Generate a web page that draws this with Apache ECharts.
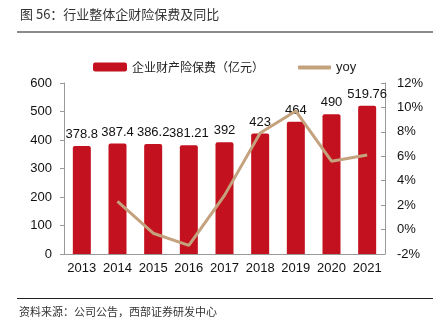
<!DOCTYPE html>
<html>
<head>
<meta charset="utf-8">
<script src="https://cdn.jsdelivr.net/npm/echarts@6/dist/echarts.min.js"></script>
<style>
  html, body { margin: 0; padding: 0; background: #fff; }
  #chart { width: 442px; height: 330px; }
</style>
</head>
<body>
<div id="chart"></div>
<script>
// Years on the category axis
const years = ['2013', '2014', '2015', '2016', '2017', '2018', '2019', '2020', '2021'];
// Enterprise property insurance premiums (100 million yuan)
const premiums = [378.8, 387.4, 386.2, 381.21, 392, 423, 464, 490, 519.76];
// Year-on-year growth (%), no value for the first year
const yoy = ['-', 2.3, -0.3, -1.3, 2.8, 7.9, 9.7, 5.6, 6.1];
// Right axis tick labels come from this range
const yoyMin = -2, yoyMax = 12, yoyStep = 2;

const latin = '"Liberation Sans", Arial, sans-serif';
const cjk = '"Noto Sans CJK SC", "Liberation Sans", sans-serif';
const barName = '企业财产险保费（亿元）';

const chart = echarts.init(document.getElementById('chart'), null, { renderer: 'canvas' });
chart.setOption({
  animation: false,
  backgroundColor: '#fff',
  grid: { left: 64, right: 57, top: 83, bottom: 76 },
  legend: [
    {
      left: 88, top: 56, itemWidth: 34, itemHeight: 9,
      data: [{ name: barName, icon: 'roundRect' }],
      textStyle: { fontFamily: cjk, fontSize: 12, color: '#222' }
    },
    {
      left: 293, top: 56, itemWidth: 33, itemHeight: 4,
      data: [{ name: 'yoy', icon: 'roundRect' }],
      textStyle: { fontFamily: latin, fontSize: 13, color: '#222' }
    }
  ],
  graphic: [
    {
      type: 'text', left: 20, top: 8,
      style: { text: '图 56：行业整体企财险保费及同比', fill: '#333', font: '13px ' + cjk }
    },
    {
      type: 'rect', shape: { x: 17, y: 31, width: 416, height: 2 },
      style: { fill: '#8a8a8a' }
    },
    {
      type: 'rect', shape: { x: 17, y: 298, width: 416, height: 1 },
      style: { fill: '#222' }
    },
    {
      type: 'text', left: 19, top: 306,
      style: { text: '资料来源：公司公告，西部证券研发中心', fill: '#333', font: '11px ' + cjk }
    }
  ],
  xAxis: {
    type: 'category',
    data: years,
    axisLine: { lineStyle: { color: '#999' } },
    axisTick: { inside: true, length: 4, lineStyle: { color: '#999' } },
    axisLabel: { interval: 0, color: '#111', fontFamily: latin, fontSize: 13, margin: 8 }
  },
  yAxis: [
    {
      type: 'value', min: 0, max: 600, interval: 100,
      splitLine: { show: false },
      axisLine: { show: true, lineStyle: { color: '#999' } },
      axisTick: { show: true, length: 4, lineStyle: { color: '#999' } },
      axisLabel: { color: '#111', fontFamily: latin, fontSize: 13, margin: 12 }
    },
    {
      type: 'value', min: yoyMin, max: yoyMax, interval: yoyStep,
      splitLine: { show: false },
      axisLine: { show: true, lineStyle: { color: '#999' } },
      axisTick: { show: true, inside: true, length: 4, lineStyle: { color: '#999' } },
      axisLabel: { color: '#111', fontFamily: latin, fontSize: 13, margin: 12, formatter: '{value}%' }
    }
  ],
  series: [
    {
      name: barName,
      type: 'bar',
      data: premiums,
      barWidth: 18,
      itemStyle: { color: '#C3111F', borderRadius: [2, 2, 0, 0] },
      label: {
        show: true, position: 'top', distance: 5,
        color: '#111', fontFamily: latin, fontSize: 13
      }
    },
    {
      name: 'yoy',
      type: 'line',
      yAxisIndex: 1,
      data: yoy,
      showSymbol: false,
      symbol: 'none',
      lineStyle: { color: '#C4A27E', width: 3 },
      itemStyle: { color: '#C4A27E' },
      z: 3
    }
  ]
});
</script>
</body>
</html>
